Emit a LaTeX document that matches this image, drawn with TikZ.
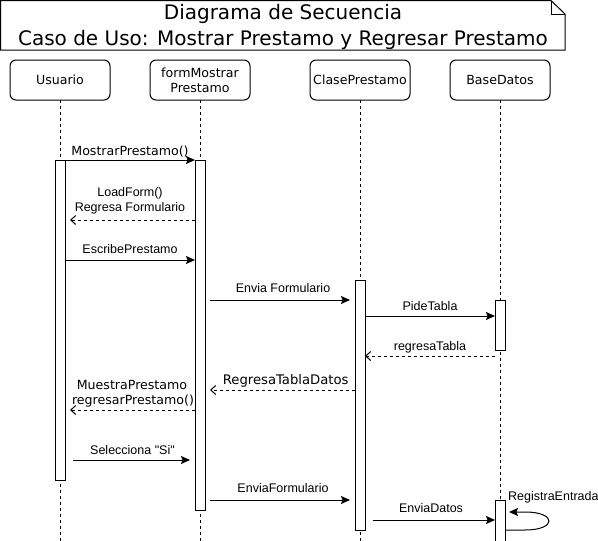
\documentclass[tikz,border=0pt]{standalone}
\usepackage{fontspec}
\newfontfamily\dvfont{DejaVu Sans}
\newfontfamily\arfont{Liberation Sans}
\usetikzlibrary{arrows.meta,calc}
\begin{document}
\begin{tikzpicture}[x=1pt,y=-1pt,
  titletxt/.style={inner sep=0pt, anchor=base, font=\dvfont\fontsize{20}{24}\selectfont},
  actor/.style={draw, rounded corners=6pt, minimum width=100pt, minimum height=40pt, inner sep=0pt, outer sep=0pt, fill=white, line width=1pt, align=center, font=\dvfont\fontsize{12.6}{14.7}\selectfont},
  bar/.style={draw, fill=white, line width=1pt, minimum width=10pt, inner sep=0pt, outer sep=0pt},
  lifeline/.style={line width=1pt, dash pattern=on 3pt off 3pt},
  msg/.style={line width=1pt, -{Stealth[length=9pt,width=8pt,inset=1.5pt]}},
  ret/.style={line width=1pt, dash pattern=on 3pt off 3pt, -{Straight Barb[length=5pt,width=9pt]}},
  lbl/.style={inner sep=0pt, anchor=base, font=\arfont\fontsize{12.5}{15}\selectfont},
  dlbl/.style={inner sep=0pt, anchor=base, font=\dvfont\fontsize{12.6}{15}\selectfont}
]
\useasboundingbox (0,0) rectangle (598,541);
\fill[white] (0,0) rectangle (598,541);

% title note
\draw[line width=1pt] (0.5,0.5) -- (551,0.5) -- (565,14) -- (565,50) -- (0.5,50) -- cycle;
\draw[line width=1pt] (551,0.5) -- (551,14) -- (565,14);
\node[titletxt] (t1) at (283,19) {Diagrama de Secuencia};
\node[titletxt] (t2) at (283,45) {Caso de Uso: Mostrar Prestamo y Regresar Prestamo};

% actors
\node[actor] (usr) at (60,80) {Usuario};
\node[actor] (frm) at (200,80) {formMostrar\\Prestamo};
\node[actor] (cls) at (360,80) {ClasePrestamo};
\node[actor] (bd) at (500,80) {BaseDatos};

% lifelines
\coordinate (usrE) at (60,545);
\coordinate (frmE) at (200,545);
\coordinate (clsE) at (360,545);
\coordinate (bdE) at (500,545);
\draw[lifeline] (usr.south) -- (usrE);
\draw[lifeline] (frm.south) -- (frmE);
\draw[lifeline] (cls.south) -- (clsE);
\draw[lifeline] (bd.south) -- (bdE);

% activation bars
\node[bar, minimum height=320pt] (bu) at (60,320) {};
\node[bar, minimum height=350pt] (bf) at (200,335) {};
\node[bar, minimum height=250pt] (bc) at (360,405) {};
\node[bar, minimum height=50pt] (bd1) at (500,325) {};
\node[bar, minimum height=50pt] (bd2) at (500,525) {};

% messages
\draw[msg] (bu.north east) -- (bf.north west);
\node[dlbl] (l1) at (130,155) {MostrarPrestamo()};

\draw[ret] (bf.west |- 0,220) -- ($(bu.east |- 0,220)+(5,0)$);
\node[lbl] (l2) at (130,196) {LoadForm()};
\node[lbl] (l3) at (130,211) {Regresa Formulario};

\draw[msg] (bu.east |- 0,260) -- (bf.west |- 0,260);
\node[lbl] (l4) at (130,253.5) {EscribePrestamo};

\draw[msg] ($(bf.east |- 0,300)+(5,0)$) -- ($(bc.west |- 0,300)+(-5,0)$);
\node[lbl] (l5) at (283,292.5) {Envia Formulario};

\draw[msg] (bc.east |- 0,316) -- (bd1.west |- 0,316);
\node[lbl] (l6) at (430,310.5) {PideTabla};

\draw[ret] (bd1.west |- 0,356) -- (bc.east |- 0,356);
\node[lbl] (l7) at (430,350) {regresaTabla};

\draw[ret] (bc.west |- 0,390) -- ($(bf.east |- 0,390)+(5,0)$);
\node[dlbl, font=\dvfont\fontsize{13.2}{15}\selectfont] (l8) at (285.7,384.5) {RegresaTablaDatos};

\draw[ret] (bf.west |- 0,410) -- ($(bu.east |- 0,410)+(5,0)$);
\node[dlbl] (l9) at (132,389.5) {MuestraPrestamo};
\node[dlbl] (l10) at (133,404.5) {regresarPrestamo()};

\draw[msg] ($(bu.east |- 0,460)+(8,0)$) -- ($(bf.west |- 0,460)+(-5,0)$);
\node[lbl] (l11) at (132.5,454) {Selecciona "Si"};

\draw[msg] ($(bf.east |- 0,500)+(5,0)$) -- ($(bc.west |- 0,500)+(-5,0)$);
\node[lbl] (l12) at (283,492.5) {EnviaFormulario};

\draw[msg] ($(bc.east |- 0,520)+(8,0)$) -- (bd2.west |- 0,520);
\node[lbl] (l13) at (431,512.5) {EnviaDatos};

% self message
\draw[msg] (bd2.east |- 0,530) -- (525,530) .. controls (557,530) and (557,512) .. (525,512) -- ($(bd2.east |- 0,512)+(4,0)$);
\node[lbl, anchor=base west] (l14) at (508,500) {RegistraEntrada};
\end{tikzpicture}
\end{document}
